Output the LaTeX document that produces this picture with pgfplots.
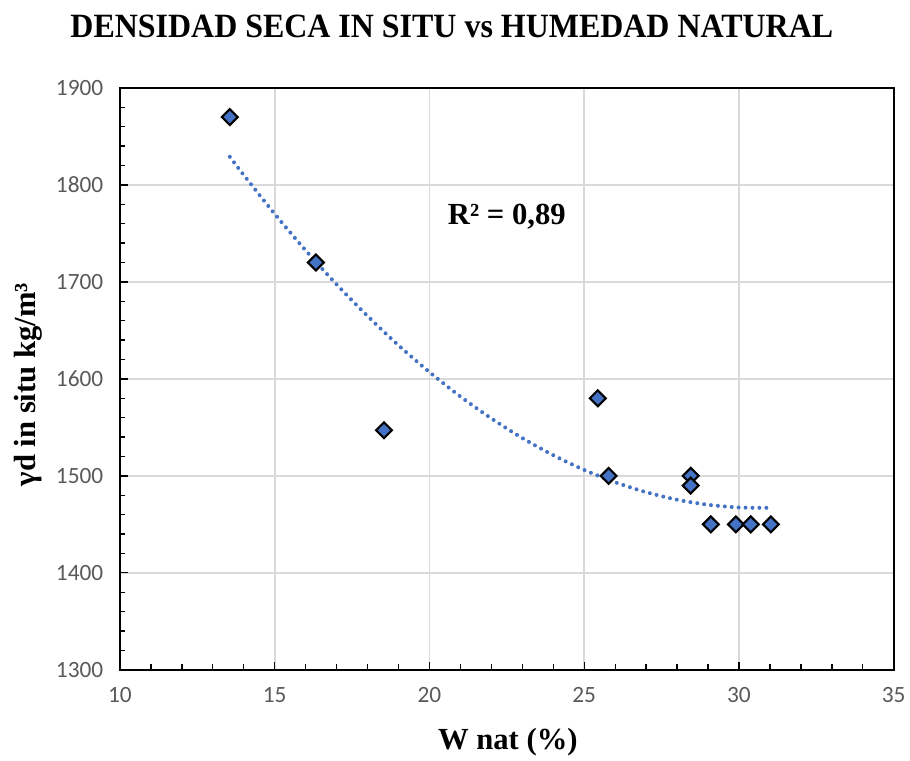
\documentclass[border=0pt]{standalone}
\usepackage{pgfplots}
\pgfplotsset{compat=1.18}
\usepackage{fontspec}
\setmainfont{Liberation Serif}
\newfontfamily\calibri{Carlito}
\definecolor{mblue}{HTML}{4472C4}
\definecolor{tgray}{HTML}{595959}
\definecolor{ggray}{HTML}{D9D9D9}
\begin{document}
\begin{tikzpicture}
\begin{axis}[
  at={(0,0)}, anchor=origin,
  scale only axis, width=580.5pt, height=436.5pt,
  xmin=10, xmax=35, ymin=1300, ymax=1900,
  xtick={10,15,...,35}, ytick={1300,1400,...,1900},
  minor x tick num=4, minor y tick num=4,
  tick align=inside,
  major tick length=6pt, minor tick length=4pt,
  tick style={black, line width=1pt},
  xtick pos=bottom, ytick pos=left,
  grid=major, major grid style={ggray, line width=1.2pt},
  axis line style={black, line width=1.5pt},
  /pgf/number format/assume math mode=true,
  /pgf/number format/1000 sep={},
  ticklabel style={font=\calibri\fontsize{17.5}{20}\selectfont, text=tgray},
  xticklabel style={yshift=-10pt},
  yticklabel style={xshift=-9pt},
  clip=false,
]
\addplot[mblue, line width=3pt, line cap=round, dash pattern=on 0pt off 5.2pt, smooth] coordinates {
(13.55,1829) (14,1810.2) (15,1770.1) (16,1732.5) (17,1697.4) (18,1664.8) (19,1634.6) (20,1607.0)
(21,1581.8) (22,1559.2) (23,1539.0) (24,1521.3) (25,1506.1) (26,1493.4) (27,1483.2) (28,1475.4)
(29,1470.2) (30,1467.4) (30.9,1467.0)
};
\addplot[only marks, mark=square*, mark size=4.2pt, mark options={rotate=45, fill=mblue, draw=black, line width=1.6pt}] coordinates {
(13.55,1870) (16.33,1720) (18.53,1547) (25.44,1580) (25.79,1500) (28.44,1500) (28.44,1490)
(29.09,1450) (29.9,1450) (30.38,1450) (31.03,1450)
};
\node[font=\bfseries\fontsize{23}{26}\selectfont] at (axis cs:22.5,1767) {R² = 0,89};
\end{axis}
\node[font=\bfseries\fontsize{23}{26}\selectfont] at (291pt,-54pt) {W nat (\%)};
\node[font=\bfseries\fontsize{23}{26}\selectfont, rotate=90] at (-69pt,214pt) {γd in situ kg/m³};
\node[font=\bfseries\fontsize{25.5}{28}\selectfont, xscale=0.94] at (249pt,483pt) {DENSIDAD SECA IN SITU vs HUMEDAD NATURAL};
\path[use as bounding box] (-90pt,-66pt) rectangle (592.5pt,502.5pt);
\end{tikzpicture}
\end{document}
